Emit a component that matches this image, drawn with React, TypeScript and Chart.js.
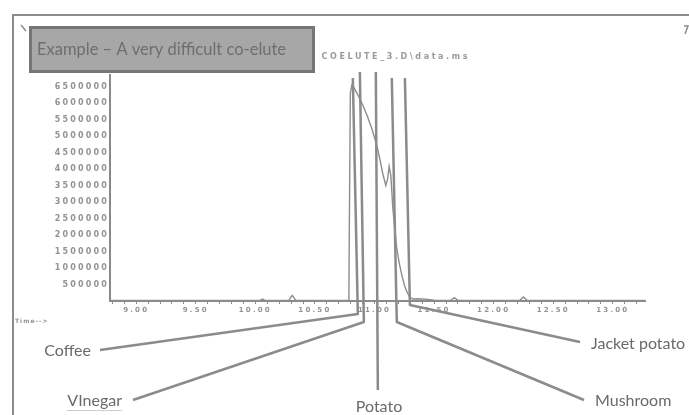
import React, { useEffect, useRef } from 'react';
import { Chart, registerables } from 'chart.js';

Chart.register(...registerables);

// ---- data ----
const retentionTimes = [
  8.78, 9.5, 10.0, 10.04, 10.06, 10.08, 10.28, 10.31, 10.34, 10.6,
  10.785, 10.787, 10.797, 10.81, 10.83, 10.86, 10.9, 10.94, 10.98, 11.02,
  11.045, 11.07, 11.095, 11.11, 11.123, 11.137, 11.154, 11.17, 11.185, 11.2,
  11.213, 11.235, 11.255, 11.275, 11.297, 11.32, 11.35, 11.4, 11.45, 11.5,
  11.64, 11.67, 11.7, 12.0, 12.22, 12.25, 12.28, 12.6, 13.27,
];
const abundance = [
  20000, 20000, 20000, 20000, 60000, 20000, 20000, 170000, 20000, 20000,
  20000, 1370000, 6300000, 6550000, 6450000, 6250000, 5950000, 5600000, 5200000, 4700000,
  4300000, 3850000, 3500000, 3700000, 4080000, 3800000, 2800000, 2200000, 1650000, 1300000,
  1050000, 700000, 430000, 250000, 120000, 60000, 70000, 60000, 50000, 25000,
  20000, 100000, 20000, 20000, 20000, 120000, 20000, 20000, 20000,
];
const xMin = 8.78;
const xMax = 13.27;
const xMajorStep = 0.5;
const xMinorStep = 0.1;
const yMax = 6850000;
const yTickValues = [
  0, 500000, 1000000, 1500000, 2000000, 2500000, 3000000, 3500000,
  4000000, 4500000, 5000000, 5500000, 6000000, 6500000,
];

const peakNames = ['Coffee', 'VInegar', 'Potato', 'Mushroom', 'Jacket potato'];
const peakTimes = [10.818, 10.877, 11.011, 11.145, 11.255];

const titleText = 'Example \u2013 A very difficult co-elute';
const fileText = 'COELUTE_3.D\\data.ms';
const timeLabel = 'Time-->';

// ---- styles / layout ----
const AXIS = '#8a8a8a';
const TICK = '#939393';
const LEADER = '#8b8b8b';
const LABEL = '#6a6a6a';

const CALLOUTS = [
  { topY: 78, bendDx: 5, bendY: 314, end: [100, 350], text: [91, 356], align: 'right' },
  { topY: 72, bendDx: 4, bendY: 322, end: [133, 400], text: [122, 406], align: 'right' },
  { topY: 72, bendDx: 2, bendY: 390, end: null, text: [379, 412], align: 'center' },
  { topY: 78, bendDx: 5, bendY: 322, end: [584, 400], text: [595, 406], align: 'left' },
  { topY: 78, bendDx: 5, bendY: 305, end: [580, 342], text: [591, 349], align: 'left' },
];

const spacingPlugin = {
  id: 'tickSpacing',
  beforeDraw(chart: any) {
    chart.ctx.letterSpacing = '2.2px';
  },
  beforeDatasetsDraw(chart: any) {
    chart.ctx.letterSpacing = '0px';
  },
};

const decorPlugin = {
  id: 'decor',
  afterDraw(chart: any) {
    const ctx = chart.ctx;
    const xs = chart.scales.x;
    ctx.save();

    // file header text (partly hidden by the title box)
    ctx.letterSpacing = '2.6px';
    ctx.font = 'bold 8px "DejaVu Sans"';
    ctx.fillStyle = '#9a9a9a';
    ctx.textAlign = 'right';
    ctx.textBaseline = 'middle';
    ctx.fillText(fileText, 470, 57);

    // Time--> label
    ctx.letterSpacing = '1px';
    ctx.font = 'bold 6px "DejaVu Sans"';
    ctx.fillStyle = TICK;
    ctx.textAlign = 'left';
    ctx.fillText(timeLabel, 15, 321);
    ctx.letterSpacing = '0px';

    // title box
    ctx.fillStyle = '#a7a7a7';
    ctx.fillRect(29, 26, 286, 47);
    ctx.strokeStyle = '#767676';
    ctx.lineWidth = 3;
    ctx.strokeRect(30.5, 27.5, 283, 44);
    ctx.fillStyle = '#6e6e6e';
    ctx.font = '16.5px Lato';
    ctx.textAlign = 'left';
    ctx.textBaseline = 'alphabetic';
    ctx.fillText(titleText, 37, 55);

    // outer frame
    ctx.strokeStyle = '#8c8c8c';
    ctx.lineWidth = 2;
    ctx.beginPath();
    ctx.moveTo(13, 415);
    ctx.lineTo(13, 15);
    ctx.lineTo(689, 15);
    ctx.stroke();

    // small marks
    ctx.lineWidth = 1.5;
    ctx.beginPath();
    ctx.moveTo(21, 25);
    ctx.lineTo(26, 31);
    ctx.stroke();
    ctx.beginPath();
    ctx.moveTo(684, 26);
    ctx.lineTo(688, 26);
    ctx.lineTo(685, 34);
    ctx.stroke();

    // leader lines
    ctx.strokeStyle = LEADER;
    ctx.lineWidth = 2.5;
    ctx.lineJoin = 'round';
    peakTimes.forEach((t, i) => {
      const c = CALLOUTS[i];
      const x0 = xs.getPixelForValue(t);
      ctx.beginPath();
      ctx.moveTo(x0, c.topY);
      ctx.lineTo(x0 + c.bendDx, c.bendY);
      if (c.end) ctx.lineTo(c.end[0], c.end[1]);
      ctx.stroke();
    });

    // labels
    ctx.fillStyle = LABEL;
    ctx.font = '16px Lato';
    ctx.textBaseline = 'alphabetic';
    peakNames.forEach((name, i) => {
      const c = CALLOUTS[i];
      ctx.textAlign = c.align;
      ctx.fillText(name, c.text[0], c.text[1]);
    });

    // spell-check underline under "VInegar"
    const vw = ctx.measureText(peakNames[1]).width;
    ctx.strokeStyle = '#9a9a9a';
    ctx.lineWidth = 1;
    ctx.setLineDash([1, 1]);
    ctx.beginPath();
    ctx.moveTo(CALLOUTS[1].text[0] - vw, CALLOUTS[1].text[1] + 4.5);
    ctx.lineTo(CALLOUTS[1].text[0], CALLOUTS[1].text[1] + 4.5);
    ctx.stroke();
    ctx.setLineDash([]);

    ctx.restore();
  },
};

const isMajor = (v: number) => Math.abs(v / xMajorStep - Math.round(v / xMajorStep)) < 1e-6;

export default function App() {
  const ref = useRef<HTMLCanvasElement | null>(null);

  useEffect(() => {
    document.body.style.margin = '0';
    const canvas = ref.current;
    if (!canvas) return;
    const points = retentionTimes.map((t, i) => ({ x: t, y: abundance[i] }));
    const chart = new Chart(canvas, {
      type: 'line',
      data: {
        datasets: [
          {
            data: points,
            borderColor: '#8d8d8d',
            borderWidth: 1.4,
            pointRadius: 0,
            tension: 0,
            fill: false,
          },
        ],
      },
      options: {
        responsive: false,
        animation: false,
        devicePixelRatio: 1,
        layout: { padding: { left: 12, top: 75, right: 44, bottom: 0 } },
        plugins: {
          legend: { display: false },
          tooltip: { enabled: false },
          title: { display: false },
        },
        scales: {
          x: {
            type: 'linear',
            min: xMin,
            max: xMax,
            afterFit: (s: any) => {
              s.height = 114;
            },
            border: { display: true, color: AXIS, width: 2 },
            grid: {
              display: true,
              drawOnChartArea: false,
              drawTicks: true,
              tickLength: 3,
              color: AXIS,
              lineWidth: 1,
            },
            ticks: {
              stepSize: xMinorStep,
              autoSkip: false,
              includeBounds: false,
              maxRotation: 0,
              minRotation: 0,
              padding: 2,
              color: TICK,
              font: { family: 'DejaVu Sans', size: 7, weight: 'bold' },
              callback: (v: any) => (isMajor(Number(v)) ? Number(v).toFixed(2) : ''),
            },
          },
          y: {
            type: 'linear',
            min: 0,
            max: yMax,
            afterFit: (s: any) => {
              s.width = 98;
            },
            afterBuildTicks: (s: any) => {
              s.ticks = yTickValues.map((v) => ({ value: v }));
            },
            border: { display: true, color: AXIS, width: 2 },
            grid: { display: false, drawTicks: false, tickLength: 0 },
            ticks: {
              autoSkip: false,
              padding: 1,
              color: TICK,
              font: { family: 'DejaVu Sans', size: 8, weight: 'bold' },
              callback: (v: any) => (Number(v) === 0 ? '' : String(Math.round(Number(v)))),
            },
          },
        },
      } as any,
      plugins: [spacingPlugin, decorPlugin],
    });
    return () => chart.destroy();
  }, []);

  return (
    <div style={{ position: 'absolute', left: 0, top: 0, width: 689, height: 415, background: '#fff' }}>
      <canvas ref={ref} width={689} height={415} style={{ display: 'block', width: 689, height: 415 }} />
    </div>
  );
}
